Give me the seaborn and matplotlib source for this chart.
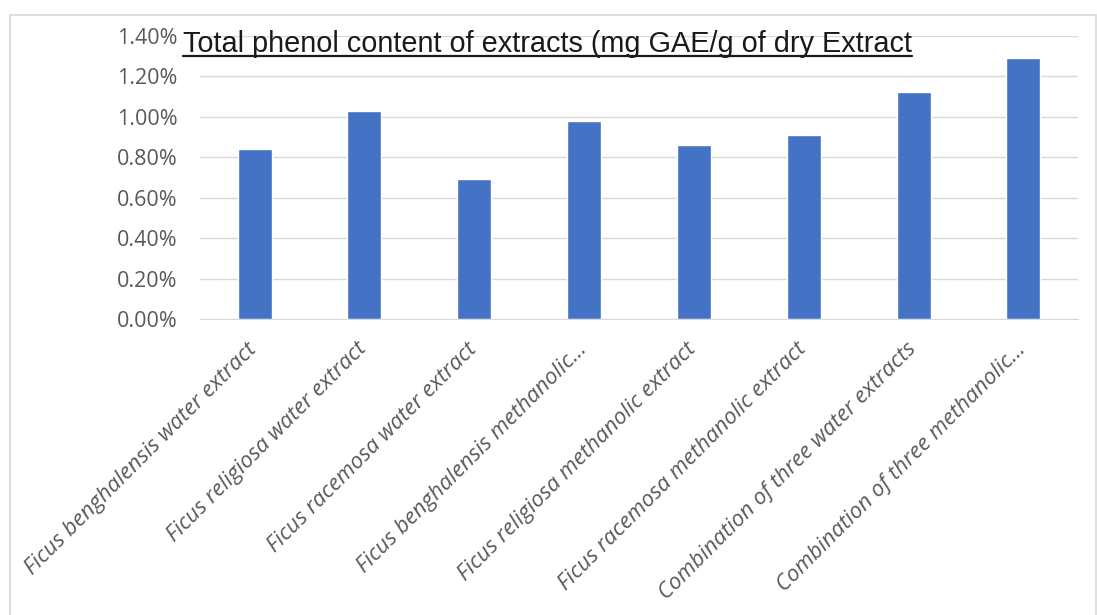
import matplotlib
matplotlib.use('Agg')
import matplotlib.pyplot as plt
import matplotlib.transforms as mtransforms
import seaborn as sns
import pandas as pd
from matplotlib.ticker import PercentFormatter
from matplotlib.patches import Rectangle
from matplotlib.lines import Line2D

# data
extracts = ['Ficus benghalensis water extract', 'Ficus religiosa water extract',
            'Ficus racemosa water extract', 'Ficus benghalensis methanolic...',
            'Ficus religiosa methanolic extract', 'Ficus racemosa methanolic extract',
            'Combination of three water extracts', 'Combination of three methanolic...']
phenol = [0.84, 1.03, 0.69, 0.98, 0.86, 0.91, 1.12, 1.29]

df = pd.DataFrame({'extract': extracts, 'phenol': phenol})

sns.set_style('white')
plt.rcParams['font.family'] = ['Open Sans', 'DejaVu Sans']

fig = plt.figure(figsize=(10.97, 6.15), dpi=100)
ax = fig.add_axes([0.182, 0.481, 0.801, 0.461])

sns.barplot(data=df, x='extract', y='phenol', color='#4472c4', saturation=1,
            width=0.31, ax=ax)

ax.set_ylim(0, 1.4)
ax.set_yticks([0, 0.2, 0.4, 0.6, 0.8, 1.0, 1.2, 1.4])
ax.yaxis.set_major_formatter(PercentFormatter(decimals=2))
ax.grid(axis='y', color='#d9d9d9', linewidth=1)
ax.set_axisbelow(True)
for s in ['left', 'right', 'top']:
    ax.spines[s].set_visible(False)
ax.spines['bottom'].set_color('#d9d9d9')
ax.tick_params(axis='y', length=0, colors='#595959', labelsize=15.5, pad=16)
ax.tick_params(axis='x', length=0, colors='#595959', labelsize=16, pad=14)
ax.set_xlabel('')
ax.set_ylabel('')
shift = mtransforms.ScaledTranslation(-8 / 100, 0, fig.dpi_scale_trans)
for lab in ax.get_xticklabels():
    lab.set_rotation(45)
    lab.set_ha('right')
    lab.set_rotation_mode('anchor')
    lab.set_style('italic')
    lab.set_transform(lab.get_transform() + shift)

# chart title, underlined
title = fig.text(0.167, 0.928, 'Total phenol content of extracts (mg GAE/g of dry Extract',
                 fontsize=20.8, color='#1a1a1a', va='center', ha='left',
                 family=['Liberation Sans Narrow', 'Liberation Sans', 'DejaVu Sans'])
fig.canvas.draw()
bb = title.get_window_extent().transformed(fig.transFigure.inverted())
fig.add_artist(Line2D([bb.x0, bb.x1], [bb.y0 + 0.003, bb.y0 + 0.003],
                      color='#1a1a1a', linewidth=1.6, transform=fig.transFigure))

# chart frame
fig.add_artist(Rectangle((0.009, -0.01), 0.99, 0.985, fill=False,
                         edgecolor='#d9d9d9', linewidth=1.2, transform=fig.transFigure))

fig.savefig('out.png', dpi=100)
